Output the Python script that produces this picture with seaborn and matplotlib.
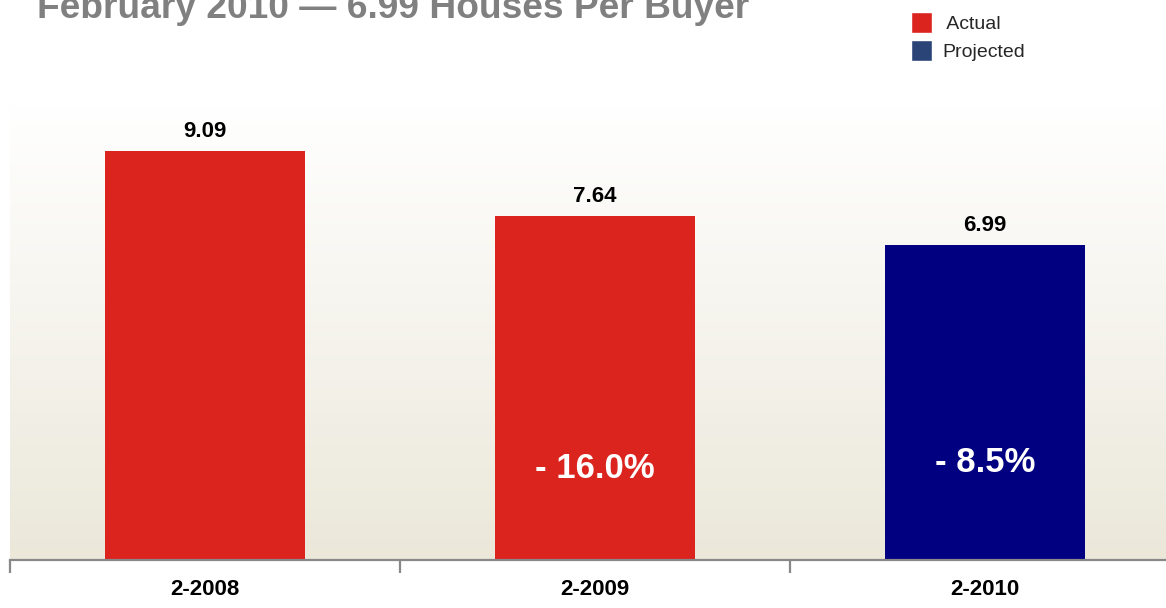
import matplotlib
matplotlib.use("Agg")
import numpy as np
import pandas as pd
import matplotlib.pyplot as plt
import seaborn as sns
from matplotlib.patches import Patch
from matplotlib.colors import LinearSegmentedColormap

# data
periods = ["2-2008", "2-2009", "2-2010"]
houses_per_buyer = [9.09, 7.64, 6.99]
status = ["Actual", "Actual", "Projected"]
pct_change = [None, "- 16.0%", "- 8.5%"]

red = "#db241e"
navy = "#000080"
legend_blue = "#2a4478"

sns.set_theme(style="white")
plt.rcParams["font.family"] = ["Liberation Sans", "DejaVu Sans"]

df = pd.DataFrame({"period": periods, "value": houses_per_buyer, "status": status})

fig = plt.figure(figsize=(11.66, 6.08), dpi=100)
W, H = 1166, 608
ax = fig.add_axes([10 / W, (H - 560) / H, 1170 / W, 455 / H])

ytop = 455 / 45.0
# background gradient, white at top to beige at the baseline
cmap = LinearSegmentedColormap.from_list("bg", ["#ffffff", "#ebe8da"])
grad = np.linspace(0, 1, 256).reshape(-1, 1)
ax.imshow(grad, extent=[-0.5, 2.5, 0, ytop], origin="upper", aspect="auto",
          cmap=cmap, zorder=0)

sns.barplot(data=df, x="period", y="value", hue="status",
            palette={"Actual": red, "Projected": navy},
            dodge=False, width=0.515, legend=False, ax=ax, zorder=2,
            saturation=1, linewidth=0)

ax.set_xlim(-0.5, 2.5)
ax.set_ylim(0, ytop)
ax.set_xlabel("")
ax.set_ylabel("")
ax.set_yticks([])
for s in ["top", "right", "left"]:
    ax.spines[s].set_visible(False)
ax.spines["bottom"].set_color("#888888")
ax.spines["bottom"].set_linewidth(1.6)
ax.spines["bottom"].set_zorder(3)

ax.set_xticks(range(len(periods)))
ax.set_xticklabels(periods, fontsize=16, fontweight="bold", color="black")
ax.tick_params(axis="x", which="major", length=0, pad=14)
ax.set_xticks([-0.5, 0.5, 1.5, 2.5], minor=True)
ax.tick_params(axis="x", which="minor", length=9, width=1.6, color="#888888",
               bottom=True, direction="out")

# value labels above bars
for i, v in enumerate(houses_per_buyer):
    ax.text(i, v + 0.2, f"{v:.2f}", ha="center", va="bottom",
            fontsize=16, fontweight="bold", color="black")

# change labels inside bars
pct_y = [0, 2.04, 2.16]
for i, p in enumerate(pct_change):
    if p:
        ax.text(i, pct_y[i], p, ha="center", va="center",
                fontsize=25, fontweight="bold", color="white", zorder=4)

fig.text(37 / W, 1 - 18 / H, "February 2010 \u2014 6.99 Houses Per Buyer",
         fontsize=26.7, fontweight="bold", color="#808080", ha="left", va="baseline")

handles = [Patch(facecolor=red, label=" Actual"),
           Patch(facecolor=legend_blue, label="Projected")]
fig.legend(handles=handles, loc="upper left", bbox_to_anchor=(903 / W, 1 - 4 / H),
           frameon=False, fontsize=14, handlelength=1.1, handleheight=1.3,
           handletextpad=0.5, labelspacing=0.35, borderaxespad=0)

fig.savefig("out.png", dpi=100)
